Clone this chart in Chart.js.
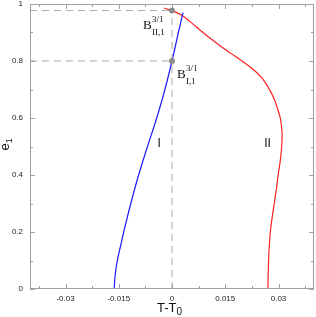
<!DOCTYPE html>
<html>
<head>
<meta charset="utf-8">
<script src="https://cdn.jsdelivr.net/npm/chart.js@4/dist/chart.umd.min.js"></script>
<style>
    html, body { margin: 0; padding: 0; background: #ffffff; }
    #chart_canvas { display: block; }
</style>
</head>
<body>
<canvas id="chart_canvas" width="316" height="317"></canvas>
<script>
    'use strict';

    // branch I (blue)
    var branch_one_e = [0, 0.05, 0.1, 0.15, 0.2, 0.3, 0.4, 0.5, 0.6, 0.7, 0.8, 0.9, 0.97];
    var branch_one_t = [-0.0163, -0.0160, -0.0154, -0.0145, -0.0136, -0.0116, -0.0094, -0.0069, -0.0043, -0.0020, 0, 0.0018, 0.0031];

    // branch II (red)
    var branch_two_e = [0, 0.05, 0.1, 0.15, 0.2, 0.25, 0.3, 0.35, 0.4, 0.45, 0.5, 0.55, 0.6, 0.63, 0.66, 0.69, 0.72, 0.745, 0.77, 0.8, 0.825, 0.85, 0.883, 0.92, 0.959, 0.975, 0.986];
    var branch_two_t = [0.0270, 0.0271, 0.0272, 0.0274, 0.0277, 0.0282, 0.0288, 0.0294, 0.0299, 0.0305, 0.0309, 0.0310, 0.0305, 0.0298, 0.0290, 0.0279, 0.0265, 0.0250, 0.0229, 0.0197, 0.0168, 0.0139, 0.0104, 0.0068, 0.0030, 0.0003, -0.0022];

    // bifurcation points
    var bif_names = ["II", "I"];
    var bif_t = [0, 0];
    var bif_e = [0.977, 0.8];

    var x_labels = [-0.03, -0.015, 0, 0.015, 0.03];
    var x_minor = [-0.0375, -0.0225, -0.0075, 0.0075, 0.0225, 0.0375];
    var y_labels = [0, 0.2, 0.4, 0.6, 0.8, 1];
    var y_minor = [0.1, 0.3, 0.5, 0.7, 0.9];

    var axis_color = "#a0a0a0";
    var guide_color = "#a8a8a8";

    function toPoints(xs, ys) {
        var pts = [];
        for (var i = 0; i < xs.length; i++) {
            pts.push({ x: xs[i], y: ys[i] });
        }
        return pts;
    }

    function tickList(values) {
        return values.map(function (v) { return { value: v }; });
    }

    // dashed guide lines from the bifurcation points to the axes
    var guide_sets = [];
    for (var i = 0; i < bif_e.length; i++) {
        guide_sets.push({
            data: [{ x: -0.04, y: bif_e[i] }, { x: bif_t[i], y: bif_e[i] }],
            borderColor: guide_color,
            borderWidth: 1,
            borderDash: [7, 5],
            pointRadius: 0,
            showLine: true,
            tension: 0
        });
    }
    guide_sets.push({
        data: [{ x: 0, y: 0 }, { x: 0, y: bif_e[0] }],
        borderColor: guide_color,
        borderWidth: 1,
        borderDash: [7, 5],
        pointRadius: 0,
        showLine: true,
        tension: 0
    });

    // ticks pointing inward on all four sides, plus the frame and the text
    var frame_plugin = {
        id: 'frame_plugin',
        afterDatasetsDraw: function (chart) {
            var ctx = chart.ctx;
            var area = chart.chartArea;
            var xs = chart.scales.x;
            var ys = chart.scales.y;

            ctx.save();
            ctx.strokeStyle = axis_color;
            ctx.lineWidth = 1;
            ctx.strokeRect(area.left + 0.5, area.top + 0.5, area.right - area.left - 1, area.bottom - area.top - 1);

            function vtick(v, len) {
                var px = Math.round(xs.getPixelForValue(v)) + 0.5;
                ctx.beginPath();
                ctx.moveTo(px, area.bottom);
                ctx.lineTo(px, area.bottom - len);
                ctx.moveTo(px, area.top);
                ctx.lineTo(px, area.top + len);
                ctx.stroke();
            }
            function htick(v, len) {
                var py = Math.round(ys.getPixelForValue(v)) + 0.5;
                ctx.beginPath();
                ctx.moveTo(area.left, py);
                ctx.lineTo(area.left + len, py);
                ctx.moveTo(area.right, py);
                ctx.lineTo(area.right - len, py);
                ctx.stroke();
            }
            x_labels.forEach(function (v) { vtick(v, 5); });
            x_minor.forEach(function (v) { vtick(v, 3); });
            y_labels.forEach(function (v) { htick(v, 5); });
            y_minor.forEach(function (v) { htick(v, 3); });

            // bifurcation markers
            ctx.fillStyle = "#8a8a8a";
            for (var i = 0; i < bif_e.length; i++) {
                ctx.beginPath();
                ctx.arc(xs.getPixelForValue(bif_t[i]), ys.getPixelForValue(bif_e[i]), 3, 0, Math.PI * 2);
                ctx.fill();
            }

            // B labels
            ctx.fillStyle = "#111111";
            ctx.textBaseline = "alphabetic";
            ctx.textAlign = "left";
            var p2x = xs.getPixelForValue(bif_t[0]);
            var p2y = ys.getPixelForValue(bif_e[0]);
            ctx.font = "13px 'Liberation Serif'";
            ctx.fillText("B", p2x - 29, p2y + 18);
            ctx.font = "9px 'Liberation Serif'";
            ctx.fillText("3/1", p2x - 20, p2y + 11);
            ctx.fillText("II,1", p2x - 20, p2y + 24);

            var p1x = xs.getPixelForValue(bif_t[1]);
            var p1y = ys.getPixelForValue(bif_e[1]);
            ctx.font = "13px 'Liberation Serif'";
            ctx.fillText("B", p1x + 5, p1y + 17);
            ctx.font = "9px 'Liberation Serif'";
            ctx.fillText("3/1", p1x + 14, p1y + 10);
            ctx.fillText("I,1", p1x + 14, p1y + 23);

            // branch names
            ctx.font = "12px 'Liberation Sans'";
            ctx.textAlign = "center";
            ctx.textBaseline = "middle";
            ctx.fillText("I", xs.getPixelForValue(-0.0036), ys.getPixelForValue(0.51));
            ctx.fillText("II", xs.getPixelForValue(0.0269), ys.getPixelForValue(0.51));

            // x axis title  T-T0
            ctx.textAlign = "left";
            ctx.textBaseline = "alphabetic";
            var cx = (area.left + area.right) / 2;
            ctx.font = "13px 'Liberation Sans'";
            var w1 = ctx.measureText("T-T").width;
            ctx.fillText("T-T", cx - 15, 312);
            ctx.font = "10px 'Liberation Sans'";
            ctx.fillText("0", cx - 15 + w1, 315);

            // y axis title  e1
            ctx.save();
            ctx.translate(9, (area.top + area.bottom) / 2 + 4);
            ctx.rotate(-Math.PI / 2);
            ctx.font = "13px 'Liberation Sans'";
            var w2 = ctx.measureText("e").width;
            ctx.fillText("e", 0, 0);
            ctx.font = "9px 'Liberation Sans'";
            ctx.fillText("1", w2, 3);
            ctx.restore();

            ctx.restore();
        }
    };

    var cxt = document.getElementById('chart_canvas').getContext('2d');
    var chart_instance = new Chart(cxt, {
        type: 'scatter',
        data: {
            datasets: guide_sets.concat([
                {
                    label: "I",
                    data: toPoints(branch_one_t, branch_one_e),
                    borderColor: "#1a1aff",
                    borderWidth: 1.2,
                    pointRadius: 0,
                    showLine: true,
                    tension: 0.3
                },
                {
                    label: "II",
                    data: toPoints(branch_two_t, branch_two_e),
                    borderColor: "#ff2020",
                    borderWidth: 1.2,
                    pointRadius: 0,
                    showLine: true,
                    tension: 0.35
                }
            ])
        },
        options: {
            responsive: false,
            animation: false,
            layout: { padding: { top: 4, right: 2, left: 0, bottom: 0 } },
            plugins: {
                legend: { display: false },
                tooltip: { enabled: false }
            },
            scales: {
                x: {
                    type: 'linear',
                    min: -0.04,
                    max: 0.04,
                    afterBuildTicks: function (scale) { scale.ticks = tickList(x_labels); },
                    afterFit: function (scale) {
                        scale.height = 28;
                        scale.paddingLeft = 0;
                        scale.paddingRight = 0;
                    },
                    grid: { display: false, drawTicks: false },
                    border: { display: false },
                    ticks: {
                        padding: 5,
                        color: "#222222",
                        font: { family: "'Liberation Sans'", size: 8 },
                        maxRotation: 0,
                        callback: function (v) { return String(v); }
                    }
                },
                y: {
                    type: 'linear',
                    min: 0,
                    max: 1,
                    afterBuildTicks: function (scale) { scale.ticks = tickList(y_labels); },
                    afterFit: function (scale) {
                        scale.width = 30;
                        scale.paddingTop = 0;
                        scale.paddingBottom = 0;
                    },
                    grid: { display: false, drawTicks: false },
                    border: { display: false },
                    ticks: {
                        padding: 7,
                        color: "#222222",
                        font: { family: "'Liberation Sans'", size: 8 },
                        callback: function (v) { return String(v); }
                    }
                }
            }
        },
        plugins: [frame_plugin]
    });
</script>
</body>
</html>
